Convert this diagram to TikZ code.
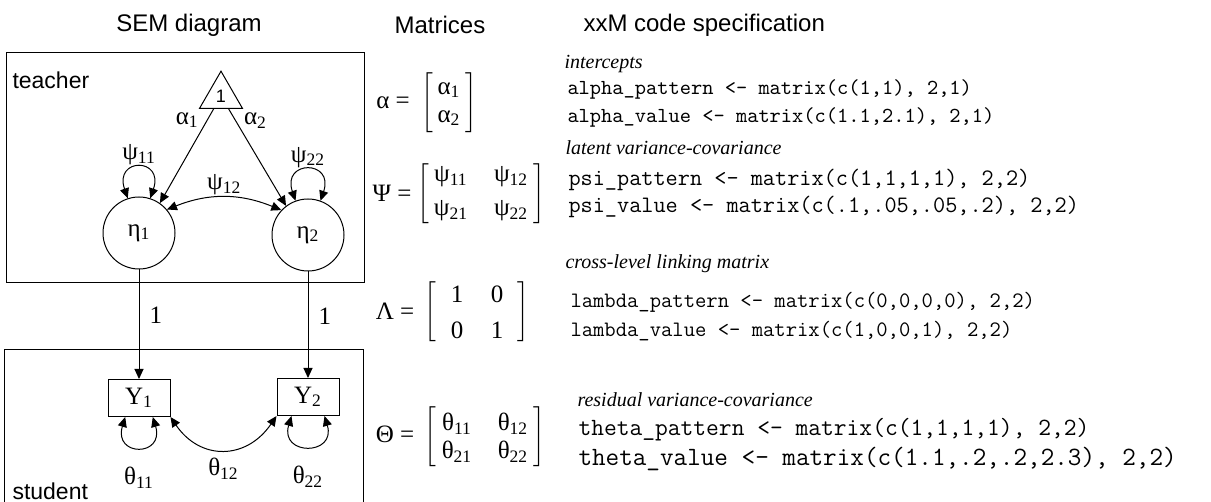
\documentclass[tikz,border=0pt]{standalone}
\usepackage{fontspec}
\setmainfont{Liberation Serif}
\setsansfont{Liberation Sans}
\usetikzlibrary{matrix,arrows.meta,shapes.geometric}

\tikzset{
  onehead/.style={-{Triangle[length=5pt,width=4.5pt]}},
  twohead/.style={{Triangle[length=5pt,width=4.5pt]}-{Triangle[length=5pt,width=4.5pt]}},
  lbl/.style={font=\fontsize{12.5}{14}\selectfont, inner sep=1pt},
  hdr/.style={font=\sffamily\fontsize{12}{14}\selectfont, inner sep=0pt},
  latent/.style={circle, draw, minimum size=36pt, inner sep=0pt, font=\fontsize{12.5}{14}\selectfont},
  obs/.style={rectangle, draw, minimum width=31pt, minimum height=18.5pt, inner sep=0pt, font=\fontsize{12.5}{14}\selectfont},
  intercept/.style={regular polygon, regular polygon sides=3, draw, minimum size=24.8pt, inner sep=0pt, font=\sffamily\fontsize{9}{10}\selectfont},
  mtx/.style={matrix of nodes, inner sep=1pt, left delimiter={[}, right delimiter={]},
    nodes={font=\fontsize{12.5}{14}\selectfont, inner sep=0pt, anchor=center}},
  head/.style={anchor=west, inner sep=0pt, font=\itshape\fontsize{10}{12}\selectfont},
  code/.style={anchor=west, inner sep=0pt, font=\ttfamily\fontsize{#1}{#1}\selectfont},
  code/.default=11
}

\begin{document}
\begin{tikzpicture}[x=0.5pt,y=-0.5pt,line width=0.5pt]
\useasboundingbox (0,0) rectangle (1211,502);

% column titles
\node[hdr] (semtitle) at (189,25) {SEM diagram};
\node[hdr] (mattitle) at (440,25) {Matrices};
\node[hdr,anchor=west] (codetitle) at (583,25) {xxM code specification};

% level boxes
\draw (6,53) rectangle (364,283);
\draw (4,350) rectangle (363,540);
\node[hdr,anchor=west,font=\sffamily\fontsize{11.5}{13}\selectfont] (teacher) at (12,80) {teacher};
\node[hdr,anchor=west,font=\sffamily\fontsize{11.5}{13}\selectfont] (student) at (12,491) {student};

% SEM diagram
\node[intercept] (one) at (221,96) {1};
\node[latent] (eta1) at (139,233) {η\textsubscript{1}};
\node[latent] (eta2) at (308,235) {η\textsubscript{2}};
\node[obs] (y1) at (139,398) {Y\textsubscript{1}};
\node[obs] (y2) at (308,397) {Y\textsubscript{2}};

\draw[onehead] (one) -- (eta1.55) node[lbl,pos=0.12,left=3pt] {α\textsubscript{1}};
\draw[onehead] (one) -- (eta2.127) node[lbl,pos=0.12,right=3pt] {α\textsubscript{2}};
\draw[twohead] (eta1.108) .. controls +(-14,-41) and +(14,-41) .. (eta1.72)
  node[lbl,midway,above] {ψ\textsubscript{11}};
\draw[twohead] (eta2.110) .. controls +(-14,-41) and +(14,-41) .. (eta2.70)
  node[lbl,midway,above] {ψ\textsubscript{22}};
\draw[twohead] (eta1.40) to[bend left=22] node[lbl,above] {ψ\textsubscript{12}} (eta2.137);

\draw[onehead] (eta1) -- (y1) node[lbl,pos=0.42,right=4pt] {1};
\draw[onehead] (eta2) -- (y2) node[lbl,pos=0.42,right=4pt] {1};

\draw[twohead] (y1.234) .. controls +(-12,40) and +(12,40) .. (y1.306)
  node[lbl,midway,below=9pt] {θ\textsubscript{11}};
\draw[twohead] (y2.229) .. controls +(-12,40) and +(12,40) .. (y2.311)
  node[lbl,midway,below=9pt] {θ\textsubscript{22}};
\draw[twohead] (y1.south east) .. controls +(30,44) and +(-30,44) .. (y2.south west)
  node[lbl,midway,below=3pt] {θ\textsubscript{12}};

% matrices
\node[lbl] (alphaeq) at (393,103) {α =};
\matrix (amat) [mtx, row sep=2pt, nodes={minimum height=12pt}] at (449,104)
  { α\textsubscript{1} \\ α\textsubscript{2} \\ };
\node[lbl] (psieq) at (392,193) {Ψ =};
\matrix (pmat) [mtx, row sep=5pt, column sep=13pt, nodes={minimum height=12pt, minimum width=16pt}] at (481,194)
  { ψ\textsubscript{11} & ψ\textsubscript{12} \\ ψ\textsubscript{21} & ψ\textsubscript{22} \\ };
\node[lbl] (lameq) at (395,311) {Λ =};
\matrix (lmat) [mtx, inner xsep=5pt, row sep=7pt, column sep=12pt, nodes={minimum height=11pt, minimum width=8pt}] at (477,312)
  { 1 & 0 \\ 0 & 1 \\ };
\node[lbl] (theeq) at (395,434) {Θ =};
\matrix (tmat) [mtx, row sep=2pt, column sep=12pt, nodes={minimum height=12pt, minimum width=16pt}] at (485,438)
  { θ\textsubscript{11} & θ\textsubscript{12} \\ θ\textsubscript{21} & θ\textsubscript{22} \\ };

% xxM code
\node[head] (hint) at (564,64) {intercepts};
\node[code=10.7] (apat) at (567,89) {alpha\_pattern <- matrix(c(1,1), 2,1)};
\node[code=10.7] (aval) at (567,117) {alpha\_value <- matrix(c(1.1,2.1), 2,1)};
\node[head] (hpsi) at (565,148) {latent variance-covariance};
\node[code=11.8] (ppat) at (568,180) {psi\_pattern <- matrix(c(1,1,1,1), 2,2)};
\node[code=11.8] (pval) at (568,207) {psi\_value <- matrix(c(.1,.05,.05,.2), 2,2)};
\node[head] (hlam) at (565,264) {cross-level linking matrix};
\node[code=11] (lpat) at (570,302) {lambda\_pattern <- matrix(c(0,0,0,0), 2,2)};
\node[code=11] (lval) at (570,331) {lambda\_value <- matrix(c(1,0,0,1), 2,2)};
\node[head] (hres) at (577,400) {residual variance-covariance};
\node[code=12.4] (tpat) at (578,430) {theta\_pattern <- matrix(c(1,1,1,1), 2,2)};
\node[code=13.2] (tval) at (578,459) {theta\_value <- matrix(c(1.1,.2,.2,2.3), 2,2)};
\end{tikzpicture}
\end{document}
